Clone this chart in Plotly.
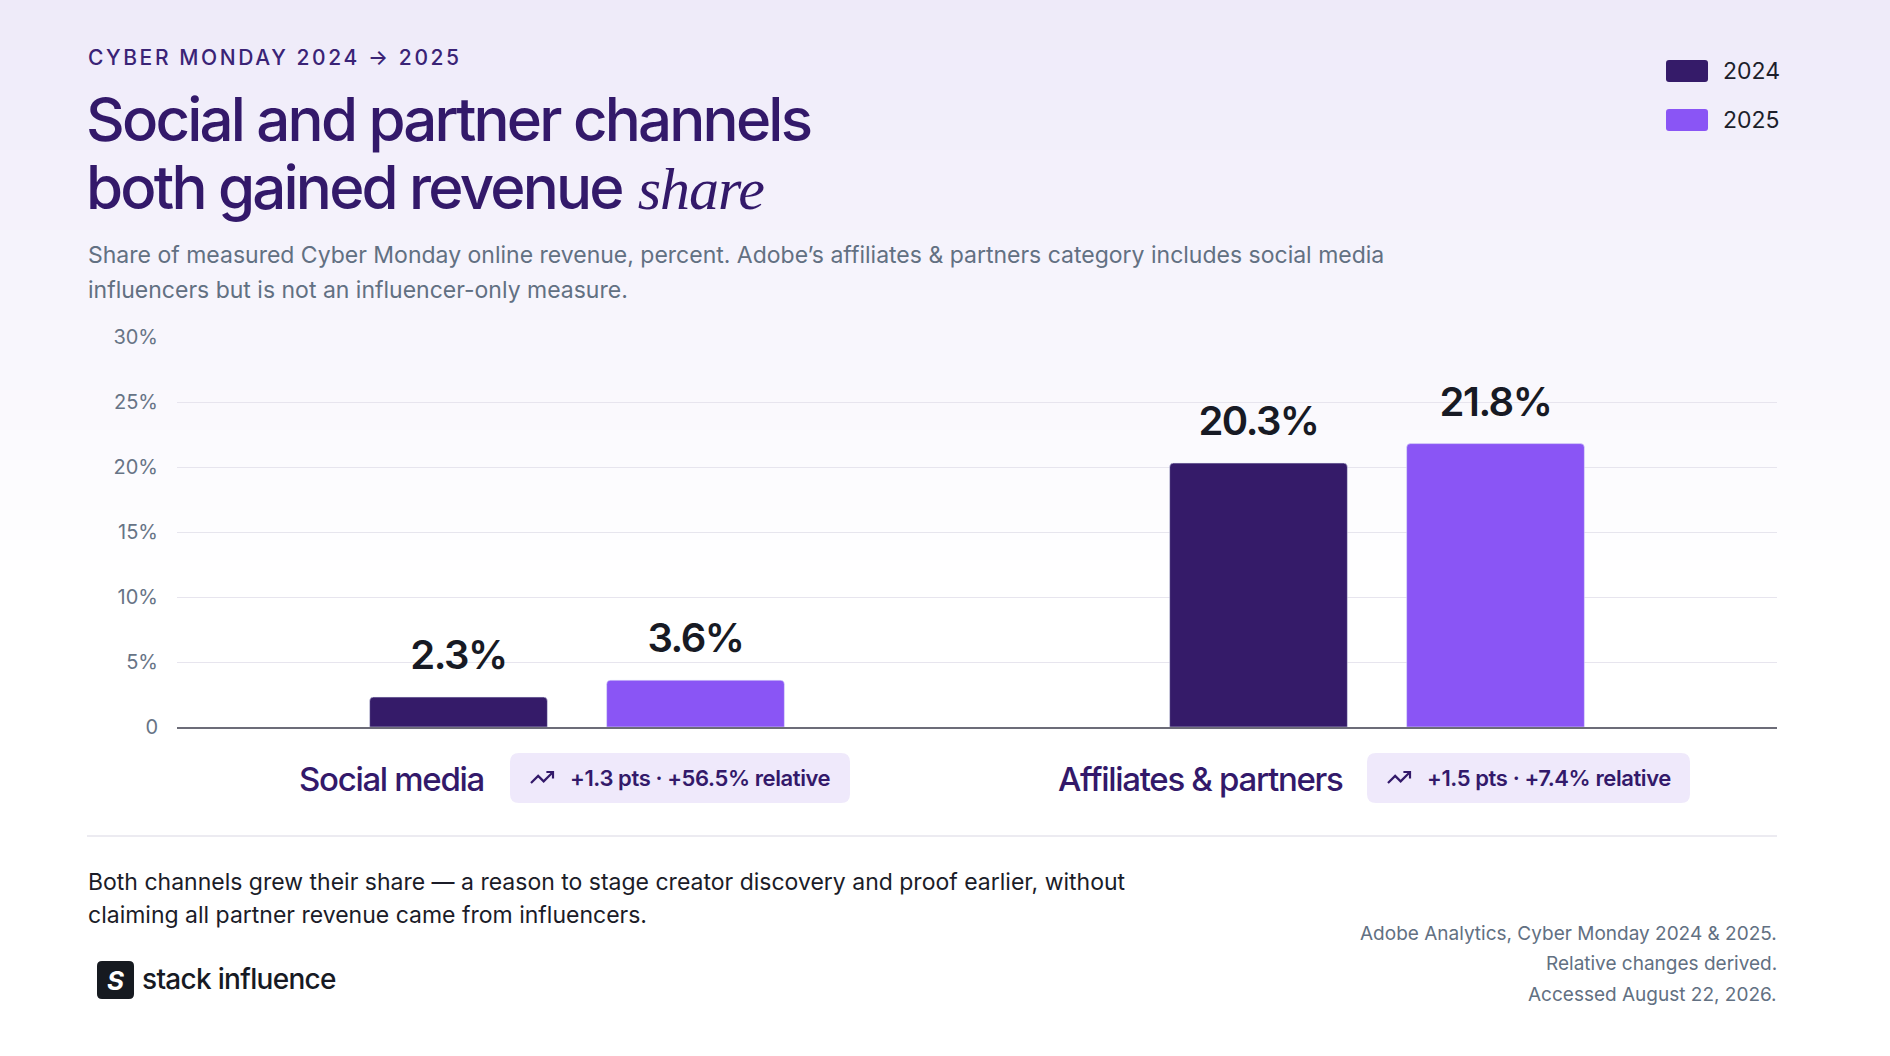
import plotly.graph_objects as go

# data
channels = ["Social media", "Affiliates & partners"]
share_2024 = [2.3, 20.3]
share_2025 = [3.6, 21.8]
y_ticks = [0, 5, 10, 15, 20, 25, 30]
y_tick_labels = ["0", "5%", "10%", "15%", "20%", "25%", "30%"]

eyebrow = "CYBER MONDAY 2024 \u2192 2025"
title_1 = "Social and partner channels"
title_2 = "both gained revenue"
title_em = "share"
subtitle_1 = ("Share of measured Cyber Monday online revenue, percent. Adobe\u2019s affiliates & "
              "partners category includes social media")
subtitle_2 = "influencers but is not an influencer-only measure."
footer_1 = ("Both channels grew their share \u2014 a reason to stage creator discovery and proof "
            "earlier, without")
footer_2 = "claiming all partner revenue came from influencers."
source_lines = ["Adobe Analytics, Cyber Monday 2024 & 2025.",
                "Relative changes derived.",
                "Accessed August 22, 2026."]

# changes (derived)
delta_pts = [b - a for a, b in zip(share_2024, share_2025)]
delta_rel = [(b / a - 1) * 100 for a, b in zip(share_2024, share_2025)]

# colours
C24 = "#351b69"
C25 = "#8a55f5"
INK = "#33196a"
GREY = "#627082"
DARK = "#171a24"

W, H = 1890, 1056
L, R, T, B = 177, 1777, 337, 727


def fx(px):
    return (px - L) / (R - L)


def fy(py):
    return (B - py) / (B - T)


def rrect(x0, y0, x1, y1, r):
    pts = [("M", x0 + r, y0), ("L", x1 - r, y0), ("Q", x1, y0, x1, y0 + r),
           ("L", x1, y1 - r), ("Q", x1, y1, x1 - r, y1), ("L", x0 + r, y1),
           ("Q", x0, y1, x0, y1 - r), ("L", x0, y0 + r), ("Q", x0, y0, x0 + r, y0)]
    out = ""
    for p in pts:
        cmd, nums = p[0], p[1:]
        coords = []
        for i in range(0, len(nums), 2):
            coords.append(f"{fx(nums[i]):.5f},{fy(nums[i + 1]):.5f}")
        out += cmd + " " + " ".join(coords) + " "
    return out + "Z"


def ls(text, px):
    return f"<span style='letter-spacing:{px}px'>{text}</span>"


fig = go.Figure()

fig.add_trace(go.Bar(x=channels, y=share_2024, name="2024", marker_color=C24,
                     offsetgroup="a", hoverinfo="skip"))
fig.add_trace(go.Bar(x=channels, y=share_2025, name="2025", marker_color=C25,
                     offsetgroup="b", hoverinfo="skip"))

# value labels
for vals, grp in [(share_2024, "a"), (share_2025, "b")]:
    fig.add_trace(go.Scatter(
        x=channels, y=vals, mode="markers+text", offsetgroup=grp,
        marker=dict(size=27, opacity=0),
        text=[ls(f"{v:.1f}%", -1.5) for v in vals], textposition="top center",
        textfont=dict(family="Inter", size=40, color=DARK, weight=600),
        hoverinfo="skip", cliponaxis=False, showlegend=False))

shapes = []
# background gradient
n = 58
for i in range(n):
    t = (i + 0.5) / n
    c = [int(round(a + (255 - a) * t)) for a in (238, 234, 249)]
    shapes.append(dict(type="rect", xref="paper", yref="paper", layer="below",
                       x0=fx(0), x1=fx(W), y0=fy(i * 10), y1=fy(i * 10 + 11),
                       fillcolor=f"rgb({c[0]},{c[1]},{c[2]})", line_width=0))

# legend swatches
for (y0, y1), col in [((60, 82), C24), ((109, 131), C25)]:
    shapes.append(dict(type="path", xref="paper", yref="paper",
                       path=rrect(1666, y0, 1708, y1, 3), fillcolor=col, line_width=0))

# badges + icons
badges = [(510, 850), (1367, 1690)]
for bx0, bx1 in badges:
    shapes.append(dict(type="path", xref="paper", yref="paper",
                       path=rrect(bx0, 753, bx1, 803, 9), fillcolor="#efe9fb", line_width=0))
    ix, iy = bx0 + 21, 772
    s = 1.1
    pts = [(0, 10), (6.5, 3.5), (11.5, 8.5), (20, 0)]
    path = "M " + " L ".join(f"{fx(ix + a * s):.5f},{fy(iy + b * s):.5f}" for a, b in pts)
    arrow = [(14, 0), (20, 0), (20, 6)]
    path += " M " + " L ".join(f"{fx(ix + a * s):.5f},{fy(iy + b * s):.5f}" for a, b in arrow)
    shapes.append(dict(type="path", xref="paper", yref="paper", path=path,
                       line=dict(color=INK, width=2.2)))

# divider
shapes.append(dict(type="line", xref="paper", yref="paper", x0=fx(87), x1=fx(R),
                   y0=fy(836), y1=fy(836), line=dict(color="#e6e5ec", width=1.5)))

# logo mark
shapes.append(dict(type="path", xref="paper", yref="paper",
                   path=rrect(97, 961, 134, 999, 5), fillcolor="#161a20", line_width=0))

annotations = []


def ann(text, px, py, size, color, xanchor="left", weight=400, family="Inter"):
    annotations.append(dict(text=text, x=fx(px), y=fy(py), xref="paper", yref="paper",
                            xanchor=xanchor, yanchor="middle", showarrow=False,
                            font=dict(family=family, size=size, color=color, weight=weight)))


ann(ls(eyebrow, 2.6), 86, 57, 21, "#3a2376", weight=500)
ann(ls(title_1, -2.8), 84, 119, 60, INK, weight=500)
ann(ls(title_2, -2.8) + " <span style='font-family:Liberation Serif;font-style:italic;"
    "font-weight:400;font-size:60px;letter-spacing:-1px'>" + title_em + "</span>",
    84, 187, 60, INK, weight=500)
ann(subtitle_1, 86, 255, 23, GREY)
ann(subtitle_2, 86, 290, 23, GREY)

# legend labels
ann("2024", 1721, 71, 23, "#1d1f2b")
ann("2025", 1721, 120, 23, "#1d1f2b")

# category labels and badges
label_right = [486, 1345]
for i, ch in enumerate(channels):
    ann(ls(ch, -1.3), label_right[i], 779, 33, INK, xanchor="right", weight=500)
    txt = f"+{delta_pts[i]:.1f} pts \u00b7 +{delta_rel[i]:.1f}% relative"
    ann(ls(txt, -0.4), badges[i][0] + 58, 778, 22, INK, weight=600)

# footer
ann(footer_1, 86, 882, 23, "#1b1c28")
ann(footer_2, 86, 915, 23, "#1b1c28")
for k, line in enumerate(source_lines):
    ann(line, R + 2, 933 + k * 30.5, 19, GREY, xanchor="right")

ann("<i><b>S</b></i>", 115.5, 980, 26, "#ffffff", xanchor="center")
ann(ls("stack influence", -0.7), 140, 979, 28, DARK, weight=500)

fig.update_layout(
    width=W, height=H,
    margin=dict(l=L, r=W - R, t=T, b=H - B, pad=0),
    paper_bgcolor="#ffffff", plot_bgcolor="rgba(0,0,0,0)",
    barmode="group", bargap=0.4075, bargroupgap=0.25, barcornerradius=4,
    scattermode="group", scattergap=0.4075,
    showlegend=False,
    shapes=shapes, annotations=annotations,
    font=dict(family="Inter"),
    xaxis=dict(type="category", range=[-0.5, 1.5], showticklabels=False, showgrid=False,
               showline=True, linecolor="#6c6c78", linewidth=1.5, zeroline=False,
               fixedrange=True),
    yaxis=dict(range=[0, 30], tickvals=y_ticks, ticktext=y_tick_labels, showgrid=True,
               gridcolor="#e7e5ee", gridwidth=1, zeroline=False, showline=False, ticks="",
               ticklabelstandoff=18, tickfont=dict(family="Inter", size=20, color="#677486"),
               fixedrange=True),
)

fig.write_html("out.html", config={"displayModeBar": False},
               post_script="document.body.style.margin='0';")
